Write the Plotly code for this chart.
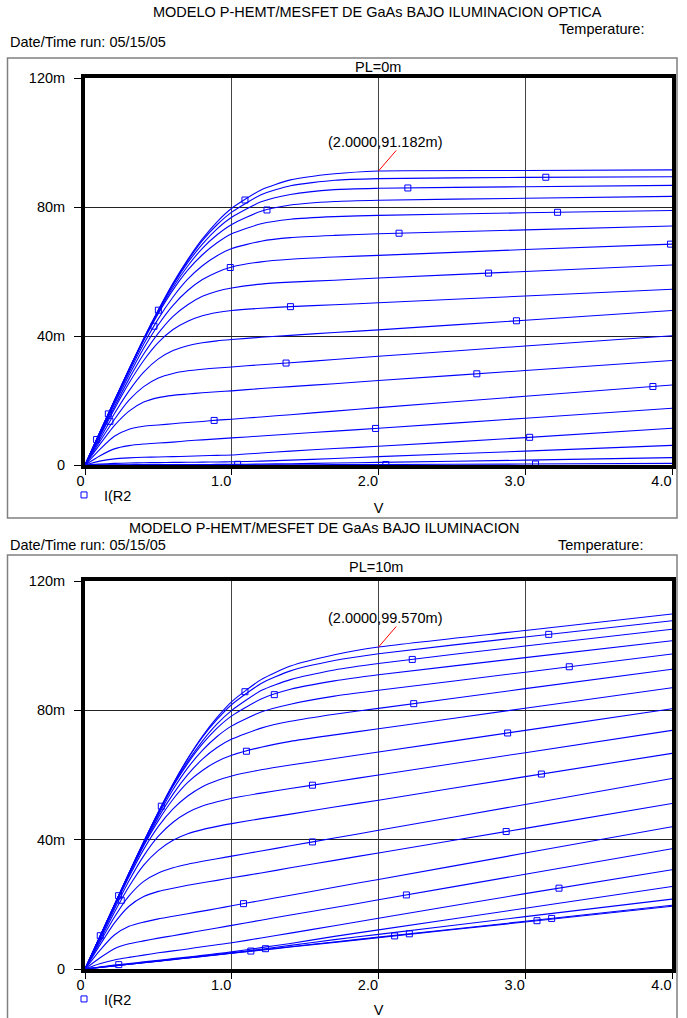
import numpy as np
import plotly.graph_objects as go

# ---------------- data (currents in mA) ----------------
V_GRID = [0, 0.1, 0.2, 0.3, 0.4, 0.5, 0.6, 0.7, 0.8, 0.9, 1.0, 1.2, 1.4, 1.7, 2.0, 3.0, 4.0]

# PL = 0m (top panel)
top_c01 = [0, 10.0, 19.9, 29.7, 39.2, 48.1, 56.4, 63.7, 70.1, 75.4, 79.6, 85.3, 88.4, 90.3, 91.18, 91.34, 91.5]
top_c02 = [0, 10.0, 19.9, 29.7, 39.1, 48.0, 56.1, 63.3, 69.6, 74.5, 78.4, 83.8, 86.6, 88.3, 88.8, 89.2, 89.4]
top_c03 = [0, 10.0, 19.9, 29.6, 39.0, 47.8, 55.8, 62.7, 68.5, 73.2, 76.8, 81.6, 83.9, 85.4, 85.8, 86.3, 86.7]
top_c04 = [0, 10.0, 19.8, 29.6, 38.9, 47.4, 55.1, 61.7, 67.2, 71.4, 74.6, 78.7, 80.6, 81.7, 82.1, 82.7, 83.3]
top_c05 = [0, 10.0, 19.8, 29.4, 38.6, 47.0, 54.3, 60.4, 65.2, 68.9, 71.7, 74.8, 76.2, 77.0, 77.4, 78.2, 78.9]
top_c06 = [0, 9.7, 19.3, 28.7, 37.5, 45.4, 52.1, 57.6, 61.8, 64.9, 67.1, 69.4, 70.5, 71.2, 71.7, 72.9, 74.1]
top_c07 = [0, 9.4, 18.8, 27.8, 36.2, 43.5, 49.5, 54.1, 57.5, 59.8, 61.4, 63.0, 63.8, 64.5, 65.0, 66.8, 68.5]
top_c08 = [0, 9.1, 18.0, 26.7, 34.4, 40.9, 46.1, 49.7, 52.3, 53.9, 54.9, 56.1, 56.7, 57.3, 58.0, 60.0, 62.0]
top_c09 = [0, 8.7, 17.3, 25.4, 32.4, 38.0, 42.0, 44.6, 46.3, 47.3, 47.9, 48.6, 49.1, 49.7, 50.3, 52.4, 54.5]
top_c10 = [0, 8.0, 15.9, 23.0, 28.8, 32.9, 35.5, 37.0, 37.9, 38.5, 38.9, 39.6, 40.2, 41.1, 41.9, 44.9, 47.9]
top_c11 = [0, 7.2, 14.1, 20.1, 24.3, 27.0, 28.4, 29.2, 29.7, 30.1, 30.4, 31.1, 31.7, 32.7, 33.7, 36.9, 40.1]
top_c12 = [0, 6.3, 12.2, 16.7, 19.5, 20.9, 21.6, 22.0, 22.4, 22.7, 23.0, 23.7, 24.3, 25.2, 26.2, 29.3, 32.4]
top_c13 = [0, 4.8, 8.9, 11.1, 12.0, 12.4, 12.8, 13.2, 13.5, 13.9, 14.2, 14.9, 15.6, 16.7, 17.8, 21.3, 24.8]
top_c14 = [0, 2.8, 5.0, 6.0, 6.5, 6.8, 7.1, 7.5, 7.8, 8.1, 8.4, 9.0, 9.6, 10.5, 11.4, 14.5, 17.6]
top_c15 = [0, 1.2, 1.9, 2.2, 2.4, 2.5, 2.6, 2.7, 2.85, 3.0, 3.1, 3.7, 4.3, 5.1, 5.8, 8.5, 11.4]
top_c16 = [0, 0.3, 0.5, 0.6, 0.7, 0.75, 0.8, 0.85, 0.9, 0.95, 1.0, 1.2, 1.5, 2.0, 2.6, 4.3, 6.1]
top_c17 = [0, 0.05, 0.08, 0.1, 0.12, 0.13, 0.14, 0.15, 0.17, 0.18, 0.2, 0.3, 0.4, 0.6, 0.8, 1.5, 2.3]
top_c18 = [0, 0.01, 0.02, 0.02, 0.03, 0.03, 0.03, 0.04, 0.04, 0.04, 0.05, 0.06, 0.08, 0.11, 0.15, 0.3, 0.5]

# PL = 10m (bottom panel)
bot_c01 = [0, 9.9, 19.8, 29.7, 39.4, 48.6, 57.3, 65.1, 72.0, 77.8, 82.7, 89.5, 93.7, 97.2, 99.57, 104.7, 109.8]
bot_c02 = [0, 9.9, 19.8, 29.7, 39.3, 48.5, 57.1, 65.0, 71.7, 77.2, 81.8, 88.3, 92.2, 95.4, 97.5, 102.7, 107.7]
bot_c03 = [0, 9.8, 19.7, 29.6, 39.2, 48.3, 56.8, 64.2, 70.5, 75.8, 80.0, 86.1, 89.5, 92.5, 94.5, 99.9, 105.1]
bot_c04 = [0, 9.8, 19.7, 29.6, 39.2, 48.2, 56.5, 63.6, 69.6, 74.5, 78.3, 83.5, 86.5, 89.1, 91.0, 96.3, 101.5]
bot_c05 = [0, 9.8, 19.7, 29.5, 38.9, 47.6, 55.5, 62.2, 67.6, 71.9, 75.2, 79.5, 81.9, 84.4, 86.2, 91.8, 97.4]
bot_c06 = [0, 9.75, 19.6, 29.2, 38.4, 46.9, 54.1, 60.1, 64.9, 68.5, 71.1, 74.5, 76.6, 78.8, 80.6, 86.7, 92.7]
bot_c07 = [0, 9.7, 19.5, 29.1, 38.1, 45.9, 52.5, 57.7, 61.4, 64.2, 66.1, 68.6, 70.4, 72.4, 74.3, 80.65, 87.0]
bot_c08 = [0, 9.6, 19.2, 28.5, 37.0, 44.1, 49.5, 53.5, 56.4, 58.3, 59.7, 61.6, 63.1, 65.1, 67.1, 73.8, 80.5]
bot_c09 = [0, 9.25, 18.5, 27.3, 35.0, 41.1, 45.4, 48.4, 50.4, 51.7, 52.8, 54.4, 55.8, 57.9, 60.0, 66.9, 73.8]
bot_c10 = [0, 8.7, 17.5, 25.5, 32.1, 36.7, 39.8, 41.8, 43.1, 44.1, 44.95, 46.5, 47.9, 50.1, 52.2, 59.5, 66.7]
bot_c11 = [0, 8.1, 16.0, 22.6, 27.1, 29.7, 31.3, 32.4, 33.3, 34.1, 34.9, 36.5, 38.1, 40.5, 42.9, 50.9, 58.9]
bot_c12 = [0, 7.3, 14.2, 19.4, 22.4, 24.0, 25.0, 25.9, 26.7, 27.4, 28.2, 29.7, 31.3, 33.6, 35.9, 43.5, 51.2]
bot_c13 = [0, 5.7, 10.5, 13.2, 14.5, 15.5, 16.3, 17.1, 17.9, 18.7, 19.55, 21.2, 22.8, 25.3, 27.7, 35.85, 44.0]
bot_c14 = [0, 3.4, 6.3, 7.8, 8.7, 9.55, 10.3, 11.1, 11.9, 12.7, 13.5, 15.1, 16.7, 19.0, 21.4, 29.3, 37.2]
bot_c15 = [0, 1.6, 2.8, 3.6, 4.3, 5.0, 5.6, 6.2, 6.9, 7.5, 8.1, 9.6, 11.1, 13.4, 15.7, 23.3, 30.7]
bot_c16 = [0, 0.6, 1.2, 1.7, 2.2, 2.7, 3.2, 3.7, 4.2, 4.75, 5.3, 6.6, 7.9, 10.1, 12.1, 18.8, 25.5]
bot_c17 = [0, 0.5, 1.0, 1.5, 2.0, 2.5, 3.0, 3.5, 4.0, 4.5, 5.0, 6.1, 7.3, 9.1, 10.7, 16.2, 21.6]
bot_c18 = [0, 0.49, 0.98, 1.47, 1.96, 2.45, 2.94, 3.43, 3.92, 4.41, 4.9, 5.9, 6.9, 8.35, 9.85, 14.75, 19.7]
bot_c19 = [0, 0.48, 0.97, 1.45, 1.94, 2.42, 2.91, 3.4, 3.88, 4.37, 4.85, 5.8, 6.8, 8.25, 9.7, 14.55, 19.4]

# marker positions (which curve, at which V)
top_mk_curve = [1, 4, 7, 3, 2, 5, 6, 7, 8, 9, 10, 11, 12, 13, 13, 14, 15, 17, 18, 18, 3, 1, 10, 6, 2]
top_mk_v = [1.09, 1.24, 0.99, 2.2, 3.14, 3.22, 2.14, 3.99, 2.75, 1.40, 2.94, 1.37, 2.67, 3.87, 0.88,
            1.98, 3.03, 1.04, 2.05, 3.07, 0.079, 0.159, 0.17, 0.47, 0.50]
bot_mk_curve = [1, 4, 7, 2, 3, 5, 6, 8, 10, 9, 11, 12, 13, 14, 15, 18, 17, 19, 18, 19, 18, 16, 1, 10, 2, 1]
bot_mk_v = [1.09, 1.29, 1.10, 3.16, 2.23, 3.30, 2.24, 2.88, 3.11, 1.55, 1.55, 2.87, 1.08, 2.19, 3.23,
            1.13, 1.23, 2.11, 2.21, 3.08, 3.18, 0.23, 0.52, 0.247, 0.229, 0.104]

# tick labels
X_TICKS = [0, 1, 2, 3, 4]
X_TICK_TEXT = ["0", "1.0", "2.0", "3.0", "4.0"]
Y_TICKS = [0, 40, 80, 120]
Y_TICK_TEXT = ["0", "40m", "80m", "120m"]

# cursor readouts
top_cursor = (2.0, 91.182, "(2.0000,91.182m)")
bot_cursor = (2.0, 99.570, "(2.0000,99.570m)")

TOP_TITLE = "MODELO P-HEMT/MESFET DE GaAs BAJO ILUMINACION OPTICA"
BOT_TITLE = "MODELO P-HEMT/MESFET DE GaAs BAJO ILUMINACION"
DATE_TEXT = "Date/Time run: 05/15/05"
TEMP_TEXT = "Temperature:"
TOP_SUB = "PL=0m"
BOT_SUB = "PL=10m"
TRACE_NAME = "I(R2"
X_TITLE = "V"

# ---------------- figure ----------------
W, H = 687, 1018
FONT = "Liberation Sans, Arial, Helvetica, sans-serif"
BLUE = "#0000ff"
FS = 14.5


def fx(p):
    return p / W


def fy(p):
    return 1 - p / H


top_curves = [top_c01, top_c02, top_c03, top_c04, top_c05, top_c06, top_c07, top_c08, top_c09,
              top_c10, top_c11, top_c12, top_c13, top_c14, top_c15, top_c16, top_c17, top_c18]
bot_curves = [bot_c01, bot_c02, bot_c03, bot_c04, bot_c05, bot_c06, bot_c07, bot_c08, bot_c09,
              bot_c10, bot_c11, bot_c12, bot_c13, bot_c14, bot_c15, bot_c16, bot_c17, bot_c18, bot_c19]

fig = go.Figure()


def add_panel(curves, mk_curve, mk_v, xa, ya, legend_name):
    for ys in curves:
        fig.add_trace(go.Scatter(
            x=V_GRID, y=ys, mode="lines", xaxis=xa, yaxis=ya,
            line=dict(color=BLUE, width=1.1, shape="spline", smoothing=0.6),
            showlegend=False, hoverinfo="skip"))
    my = [float(np.interp(v, V_GRID, curves[c - 1])) for c, v in zip(mk_curve, mk_v)]
    fig.add_trace(go.Scatter(
        x=mk_v, y=my, mode="markers", xaxis=xa, yaxis=ya, name=TRACE_NAME,
        marker=dict(symbol="square-open", size=6, color=BLUE, line=dict(width=1, color=BLUE)),
        legend=legend_name, showlegend=True))


add_panel(top_curves, top_mk_curve, top_mk_v, "x", "y", "legend")
add_panel(bot_curves, bot_mk_curve, bot_mk_v, "x2", "y2", "legend2")

PLOT_L, PLOT_R = 85, 672
TOP_T, TOP_B = 78, 465
BOT_T, BOT_B = 581, 969

tickfont = dict(family=FONT, size=FS, color="black")


def xaxis_def(anchor, title_standoff):
    return dict(
        domain=[fx(PLOT_L), fx(PLOT_R)], anchor=anchor, range=[0, 4], automargin=False,
        tickvals=X_TICKS, ticktext=X_TICK_TEXT, ticks="outside", ticklen=6, tickwidth=1,
        tickcolor="black", ticklabelposition="outside left", ticklabelshift=2,
        showline=True, linecolor="black", linewidth=4, mirror=True,
        showgrid=True, gridcolor="#444444", gridwidth=1, zeroline=False,
        tickfont=tickfont, fixedrange=True,
        title=dict(text=X_TITLE, font=tickfont, standoff=title_standoff))


def yaxis_def(anchor, top, bottom):
    return dict(
        domain=[fy(bottom), fy(top)], anchor=anchor, range=[0, 120], automargin=False,
        tickvals=Y_TICKS, ticktext=Y_TICK_TEXT, ticks="outside", ticklen=7, tickwidth=1,
        tickcolor="black", ticklabelstandoff=6,
        showline=True, linecolor="black", linewidth=4, mirror=True,
        showgrid=True, gridcolor="#222222", gridwidth=1, zeroline=False,
        tickfont=tickfont, fixedrange=True)


annotations = []


def text_at(x, y, text, xanchor="center"):
    annotations.append(dict(x=fx(x), y=fy(y), xref="paper", yref="paper", text=text,
                            showarrow=False, xanchor=xanchor, yanchor="middle",
                            font=dict(family=FONT, size=FS, color="black")))


# headers top panel
text_at(378, 12, TOP_TITLE)
text_at(646, 29, TEMP_TEXT, "right")
text_at(8, 42, DATE_TEXT, "left")
text_at(378, 67, TOP_SUB)
# headers bottom panel
text_at(324, 528, BOT_TITLE)
text_at(8, 545, DATE_TEXT, "left")
text_at(645, 545, TEMP_TEXT, "right")
text_at(376, 567, BOT_SUB)

# cursor readouts
for (cx, cy, ctext), xr, yr in [(top_cursor, "x", "y"), (bot_cursor, "x2", "y2")]:
    annotations.append(dict(x=cx, y=cy, xref=xr, yref=yr, text=ctext, showarrow=False,
                            xshift=6.5, yshift=29, xanchor="center", yanchor="middle",
                            font=dict(family=FONT, size=FS, color="black")))
    annotations.append(dict(x=cx, y=cy, xref=xr, yref=yr, text="", showarrow=True,
                            ax=19, ay=-22, arrowhead=0, arrowwidth=1, arrowcolor="#ff0000",
                            standoff=0, startstandoff=0))

shapes = [
    dict(type="rect", xref="paper", yref="paper", x0=fx(7.5), x1=fx(677), y0=fy(518), y1=fy(58),
         line=dict(color="#808080", width=1.5)),
    dict(type="rect", xref="paper", yref="paper", x0=fx(7.5), x1=fx(677), y0=fy(1030), y1=fy(555),
         line=dict(color="#808080", width=1.5)),
]

legend_common = dict(xanchor="left", yanchor="middle", bgcolor="rgba(0,0,0,0)",
                     borderwidth=0, itemwidth=30, font=dict(family=FONT, size=FS, color="black"),
                     tracegroupgap=0, itemclick=False, itemdoubleclick=False)

fig.update_layout(
    width=W, height=H, autosize=False,
    margin=dict(l=0, r=0, t=0, b=0, pad=0, autoexpand=False),
    paper_bgcolor="white", plot_bgcolor="white",
    font=dict(family=FONT, size=FS, color="black"),
    xaxis=xaxis_def("y", 15),
    yaxis=yaxis_def("x", TOP_T, TOP_B),
    xaxis2=xaxis_def("y2", 15),
    yaxis2=yaxis_def("x2", BOT_T, BOT_B),
    legend=dict(x=fx(64), y=fy(495), **legend_common),
    legend2=dict(x=fx(64), y=fy(999), **legend_common),
    annotations=annotations,
    shapes=shapes,
    hovermode=False,
)

fig.write_html("out.html", config={"displayModeBar": False, "staticPlot": True},
               post_script="document.body.style.margin='0';")
